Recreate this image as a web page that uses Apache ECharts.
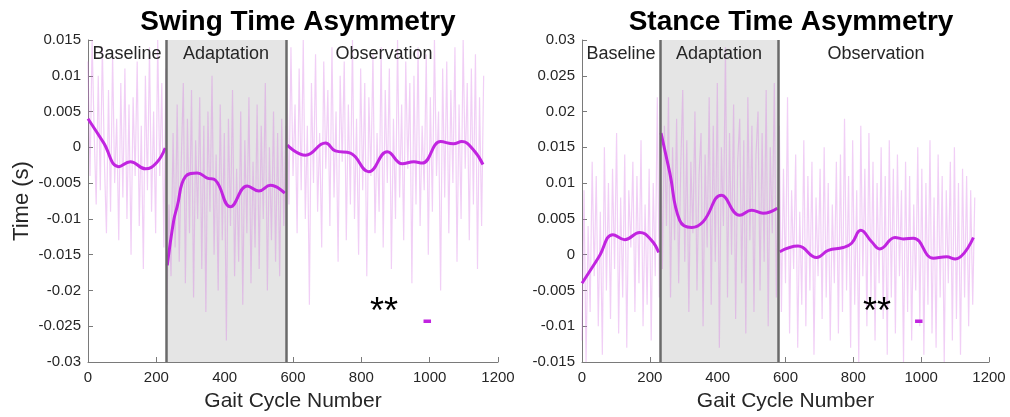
<!DOCTYPE html>
<html>
<head>
<meta charset="utf-8">
<script src="https://cdn.jsdelivr.net/npm/echarts@6/dist/echarts.min.js"></script>
<style>
  html, body { margin: 0; padding: 0; background: #fff; }
  #chart { width: 1010px; height: 417px; }
</style>
</head>
<body>
<div id="chart"></div>
<script>
// x ticks (gait cycle)
var xTicks = [0, 200, 400, 600, 800, 1000, 1200];
var phaseStart = 230, phaseEnd = 580;

// raw per-cycle asymmetry (every 6th cycle), swing
var swingRawBase = [0.012, -0.004, 0.015, 0.002, -0.008, 0.010, -0.006, 0.014, -0.002, -0.012,
  0.008, -0.009, 0.013, -0.005, 0.004, -0.013, 0.009, -0.007, 0.011, -0.010,
  0.006, -0.015, 0.007, -0.004, 0.012, -0.011, 0.003, -0.017, 0.010, -0.006,
  0.014, -0.009, 0.005, -0.012, 0.015, -0.004, 0.009, -0.014, 0.011];
var swingRawAdapt = [-0.022, -0.008, -0.018, 0.002, -0.014, 0.006, -0.016, -0.002, 0.009, -0.019,
  0.004, -0.012, 0.008, -0.021, 0.001, -0.010, 0.007, -0.017, 0.003, -0.023,
  0.005, -0.009, 0.010, -0.015, -0.001, -0.020, 0.006, -0.013, 0.002, -0.027,
  0.004, -0.011, 0.008, -0.018, -0.003, -0.016, 0.005, -0.022, 0.001, -0.012,
  0.007, -0.019, -0.002, -0.014, 0.006, -0.017, 0.003, -0.010, 0.009, -0.020,
  0.000, -0.013, 0.005, -0.016, 0.002, -0.018, 0.004, -0.011, 0.003];
var swingRawObs = [0.010, -0.008, 0.014, -0.004, 0.006, -0.012, 0.011, -0.006, 0.015, -0.010,
  0.003, -0.022, 0.009, -0.005, 0.013, -0.009, 0.002, -0.014, 0.012, -0.003,
  0.008, -0.011, 0.014, -0.007, 0.005, -0.016, 0.010, -0.002, 0.012, -0.013,
  0.006, -0.008, 0.015, -0.010, 0.004, -0.015, 0.011, -0.006, 0.009, -0.018,
  0.007, -0.004, 0.013, -0.012, 0.002, -0.009, 0.014, -0.014, 0.008, -0.005,
  0.011, -0.017, 0.004, -0.010, 0.015, -0.007, 0.006, -0.013, 0.012, -0.003,
  0.009, -0.019, 0.010, -0.008, 0.014, -0.011, 0.003, -0.006, 0.013, -0.015,
  0.007, -0.009, 0.015, -0.004, 0.005, -0.020, 0.011, -0.007, 0.012, -0.012,
  0.008, -0.005, 0.014, -0.016, 0.006, -0.010, 0.015, -0.003, 0.009, -0.013,
  0.011, -0.008, 0.013, -0.017, 0.007, -0.011, 0.010];

// raw, stance
var stanceRawBase = [-0.012, 0.009, -0.015, 0.004, -0.008, 0.013, -0.003, 0.011, -0.010, 0.006,
  -0.014, 0.015, -0.005, 0.010, -0.009, 0.012, -0.002, 0.017, -0.011, 0.008,
  -0.006, 0.014, -0.013, 0.009, 0.001, 0.013, -0.008, 0.011, -0.004, 0.016,
  -0.010, 0.007, -0.007, 0.012, -0.012, 0.010, -0.003, 0.022, -0.006];
var stanceRawAdapt = [0.021, -0.002, 0.018, 0.004, 0.022, -0.006, 0.015, 0.002, 0.019, -0.004,
  0.012, 0.023, -0.001, 0.016, -0.008, 0.013, 0.003, 0.020, -0.005, 0.011,
  0.017, -0.010, 0.014, 0.001, 0.022, -0.007, 0.018, -0.001, 0.024, -0.013,
  0.015, 0.004, 0.029, -0.006, 0.017, 0.000, 0.021, -0.009, 0.013, 0.019,
  -0.004, 0.016, -0.011, 0.022, 0.002, 0.018, -0.008, 0.014, 0.020, -0.005,
  0.017, -0.001, 0.023, -0.010, 0.015, 0.003, 0.024, -0.006, 0.012];
var stanceRawObs = [0.018, -0.008, 0.012, -0.004, 0.022, -0.011, 0.009, -0.002, 0.014, -0.013,
  0.006, -0.007, 0.016, -0.010, 0.011, -0.005, 0.013, -0.014, 0.008, -0.003,
  0.012, -0.009, 0.015, -0.006, 0.010, -0.012, 0.007, -0.004, 0.013, -0.011,
  0.014, -0.008, 0.019, -0.005, 0.011, -0.013, 0.016, -0.007, 0.009, -0.015,
  0.018, -0.003, 0.012, -0.010, 0.017, -0.006, 0.013, -0.012, 0.010, -0.004,
  0.015, -0.009, 0.011, -0.014, 0.016, -0.006, 0.012, -0.011, 0.014, -0.003,
  0.009, -0.015, 0.013, -0.008, 0.011, -0.012, 0.007, -0.005, 0.015, -0.010,
  0.012, -0.014, 0.010, -0.007, 0.016, -0.011, 0.008, -0.013, 0.014, -0.006,
  0.011, -0.015, 0.009, -0.004, 0.013, -0.012, 0.015, -0.009, 0.010, -0.014,
  0.012, -0.006, 0.011, -0.010, 0.009, -0.007, 0.008];
var rawStarts = [0, 231, 582];
var rawStep = 6;

// smoothed trend, [cycle, value]
var swingFitBase = [[0, 0.0040], [45, 0.0007], [90, -0.0027], [124, -0.0020], [168, -0.0030], [200, -0.0022], [226, -0.0001]];
var swingFitAdapt = [[232, -0.0165], [251, -0.0102], [261, -0.0083], [285, -0.0041], [320, -0.0036], [349, -0.0043],
  [373, -0.0046], [417, -0.0083], [466, -0.0054], [500, -0.0061], [534, -0.0053], [576, -0.0064]];
var swingFitObs = [[583, 0.0003], [637, -0.0011], [695, 0.0006], [724, -0.0005], [768, -0.0008], [822, -0.0034],
  [876, -0.0006], [920, -0.0023], [954, -0.0020], [978, -0.0022], [1032, 0.0008], [1070, 0.0005],
  [1094, 0.0008], [1129, -0.0004], [1156, -0.0024]];
var stanceFitBase = [[0, -0.0040], [50, -0.0003], [91, 0.0028], [126, 0.0021], [170, 0.0031], [205, 0.0020], [226, 0.0003]];
var stanceFitAdapt = [[233, 0.0170], [259, 0.0114], [288, 0.0048], [323, 0.0038], [357, 0.0046], [411, 0.0083],
  [465, 0.0055], [500, 0.0062], [534, 0.0058], [576, 0.0065]];
var stanceFitObs = [[583, 0.0004], [637, 0.0012], [692, -0.0004], [726, 0.0006], [770, 0.0010], [795, 0.0016],
  [822, 0.0034], [854, 0.0018], [878, 0.0008], [923, 0.0024], [947, 0.0022], [977, 0.0023], [1036, -0.0005],
  [1075, -0.0003], [1100, -0.0006], [1154, 0.0024]];

// significance bar
var swingSigBar = [[982, -0.0243], [1004, -0.0243]];
var stanceSigBar = [[982, -0.0093], [1004, -0.0093]];

var rawColor = 'rgba(214, 110, 228, 0.33)';
var fitColor = '#c124e0';
var font = '"Liberation Sans", Arial, sans-serif';

function rawPairs(vals, start) {
  return vals.map(function (v, i) { return [start + i * rawStep, v]; });
}

function panelSeries(idx, raws, fits, sig) {
  var out = [];
  // shaded adaptation period and its borders
  out.push({
    type: 'line', xAxisIndex: idx, yAxisIndex: idx, data: [], z: 1,
    markArea: {
      silent: true,
      itemStyle: { color: '#e5e5e5' },
      data: [[{ xAxis: phaseStart }, { xAxis: phaseEnd }]]
    }
  });
  raws.forEach(function (r, k) {
    out.push({
      type: 'line', xAxisIndex: idx, yAxisIndex: idx, z: 2, symbol: 'none',
      lineStyle: { color: rawColor, width: 1.2 },
      data: rawPairs(r, rawStarts[k])
    });
  });
  out.push({
    type: 'line', xAxisIndex: idx, yAxisIndex: idx, data: [], z: 3,
    markLine: {
      silent: true, symbol: 'none', label: { show: false },
      lineStyle: { color: '#6a6a6a', width: 2.5, type: 'solid' },
      data: [{ xAxis: phaseStart }, { xAxis: phaseEnd }]
    }
  });
  fits.forEach(function (f) {
    out.push({
      type: 'line', xAxisIndex: idx, yAxisIndex: idx, z: 4, symbol: 'none', smooth: 0.45,
      lineStyle: { color: fitColor, width: 3 },
      data: f
    });
  });
  out.push({
    type: 'line', xAxisIndex: idx, yAxisIndex: idx, z: 4, symbol: 'none',
    lineStyle: { color: fitColor, width: 3.5 },
    data: sig
  });
  return out;
}

function xAx(idx) {
  return {
    gridIndex: idx, type: 'value', min: xTicks[0], max: xTicks[xTicks.length - 1], interval: 200,
    name: 'Gait Cycle Number', nameLocation: 'middle', nameGap: 29,
    nameTextStyle: { fontSize: 21, color: '#262626', fontFamily: font },
    axisLine: { onZero: false, lineStyle: { color: '#7a7a7a', width: 1 } },
    axisTick: { inside: true, length: 5, lineStyle: { color: '#7a7a7a' } },
    axisLabel: { fontSize: 15, color: '#262626', fontFamily: font, margin: 8,
      formatter: function (v) { return String(v); } },
    splitLine: { show: false }
  };
}

function yAx(idx, mn, mx, name) {
  return {
    gridIndex: idx, type: 'value', min: mn, max: mx, interval: 0.005,
    name: name, nameLocation: 'middle', nameGap: 55,
    nameTextStyle: { fontSize: 22, color: '#262626', fontFamily: font },
    axisLine: { show: true, lineStyle: { color: '#7a7a7a', width: 1 } },
    axisTick: { show: true, inside: true, length: 5, lineStyle: { color: '#7a7a7a' } },
    axisLabel: {
      fontSize: 15, color: '#262626', fontFamily: font, margin: 7,
      formatter: function (v) { return String(+v.toFixed(3)); }
    },
    splitLine: { show: false }
  };
}

function label(text, x, y, size) {
  return {
    type: 'text', x: x, y: y, z: 10,
    style: { text: text, fill: '#262626', font: size + 'px ' + font, textAlign: 'center', textVerticalAlign: 'middle' }
  };
}

var myChart = echarts.init(document.getElementById('chart'));
var option = {
  animation: false,
  backgroundColor: '#fff',
  title: [
    { text: 'Swing Time Asymmetry', left: 293, top: 3, textAlign: 'center',
      textStyle: { fontSize: 28, fontWeight: 'bold', color: '#000', fontFamily: font } },
    { text: 'Stance Time Asymmetry', left: 786, top: 3, textAlign: 'center',
      textStyle: { fontSize: 28, fontWeight: 'bold', color: '#000', fontFamily: font } }
  ],
  grid: [
    { left: 88, top: 40, width: 410, height: 322 },
    { left: 582, top: 40, width: 407, height: 322 }
  ],
  xAxis: [xAx(0), xAx(1)],
  yAxis: [yAx(0, -0.03, 0.015, 'Time (s)'), yAx(1, -0.015, 0.03, '')],
  series: panelSeries(0, [swingRawBase, swingRawAdapt, swingRawObs], [swingFitBase, swingFitAdapt, swingFitObs], swingSigBar)
    .concat(panelSeries(1, [stanceRawBase, stanceRawAdapt, stanceRawObs], [stanceFitBase, stanceFitAdapt, stanceFitObs], stanceSigBar)),
  graphic: [
    label('Baseline', 127, 54, 18),
    label('Adaptation', 226, 54, 18),
    label('Observation', 384, 54, 18),
    label('Baseline', 621, 54, 18),
    label('Adaptation', 719, 54, 18),
    label('Observation', 876, 54, 18),
    { type: 'text', x: 384, y: 313, z: 10,
      style: { text: '**', fill: '#000', font: '36px ' + font, textAlign: 'center', textVerticalAlign: 'middle' } },
    { type: 'text', x: 877, y: 313, z: 10,
      style: { text: '**', fill: '#000', font: '36px ' + font, textAlign: 'center', textVerticalAlign: 'middle' } }
  ]
};
myChart.setOption(option);
</script>
</body>
</html>
